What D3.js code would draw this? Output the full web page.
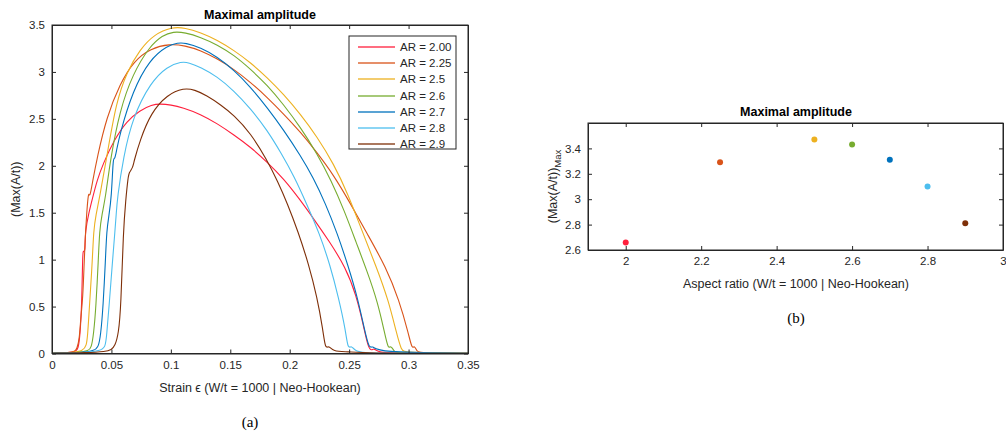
<!DOCTYPE html>
<html>
<head>
<meta charset="utf-8">
<script src="https://cdn.jsdelivr.net/npm/d3@7"></script>
<style>
  body { margin: 0; background: #fff; }
  svg text { font-family: "Liberation Sans", Arial, sans-serif; fill: #262626; }
  .caption { font-family: "Liberation Serif", "DejaVu Serif", serif; font-size: 15px; }
</style>
</head>
<body>
<div id="chart"></div>
<script>

// Aspect ratios and legend labels
var arLabels = ['AR = 2.00', 'AR = 2.25', 'AR = 2.5', 'AR = 2.6', 'AR = 2.7', 'AR = 2.8', 'AR = 2.9'];
var arValues = [2.00, 2.25, 2.5, 2.6, 2.7, 2.8, 2.9];

// Peak of each curve, panel (b)
var maxAmplitude = [2.66, 3.29, 3.47, 3.43, 3.31, 3.10, 2.81];

// Curves: [strain, Max(A/t)]
var curve200 = [[0,0.003],[0.015,0.008],[0.020,0.02],[0.022,0.05],[0.0235,0.18],[0.025,0.5],[0.0258,1.05],[0.0262,1.09],[0.0272,1.09],[0.0278,1.10],[0.028,1.31],[0.031,1.5],[0.034,1.65],[0.038,1.85],[0.043,2.02],[0.052,2.27],[0.063,2.48],[0.074,2.59],[0.084,2.65],[0.091,2.66],[0.100,2.65],[0.110,2.62],[0.125,2.55],[0.139,2.45],[0.153,2.33],[0.167,2.20],[0.181,2.04],[0.195,1.86],[0.208,1.65],[0.221,1.42],[0.233,1.20],[0.247,0.92],[0.256,0.62],[0.262,0.30],[0.266,0.06],[0.269,0.03],[0.271,0.06],[0.274,0.01],[0.29,0.005],[0.35,0.003]];
var curve225 = [[0,0.003],[0.015,0.008],[0.019,0.02],[0.021,0.05],[0.023,0.15],[0.024,0.35],[0.026,0.6],[0.027,0.95],[0.028,1.25],[0.029,1.45],[0.030,1.63],[0.031,1.72],[0.0318,1.66],[0.034,1.82],[0.038,2.09],[0.046,2.52],[0.057,2.87],[0.069,3.12],[0.083,3.25],[0.099,3.30],[0.112,3.28],[0.125,3.23],[0.139,3.14],[0.153,3.03],[0.167,2.89],[0.181,2.73],[0.195,2.55],[0.209,2.36],[0.223,2.14],[0.237,1.90],[0.251,1.60],[0.265,1.28],[0.281,0.92],[0.292,0.57],[0.300,0.21],[0.303,0.04],[0.305,0.09],[0.307,0.02],[0.31,0.005],[0.35,0.003]];
var curve250 = [[0,0.003],[0.018,0.008],[0.026,0.03],[0.029,0.08],[0.030,0.2],[0.031,0.4],[0.032,0.6],[0.034,1.0],[0.035,1.31],[0.037,1.48],[0.040,1.66],[0.046,2.09],[0.054,2.68],[0.063,3.00],[0.074,3.24],[0.086,3.40],[0.101,3.48],[0.112,3.47],[0.125,3.42],[0.139,3.34],[0.153,3.23],[0.167,3.10],[0.181,2.94],[0.195,2.76],[0.209,2.55],[0.223,2.31],[0.237,2.02],[0.249,1.70],[0.261,1.30],[0.273,0.92],[0.283,0.57],[0.290,0.21],[0.294,0.03],[0.297,0.01],[0.35,0.003]];
var curve260 = [[0,0.003],[0.022,0.008],[0.031,0.03],[0.033,0.06],[0.035,0.2],[0.037,0.5],[0.039,1.0],[0.040,1.31],[0.042,1.48],[0.045,1.66],[0.049,2.06],[0.057,2.59],[0.068,2.98],[0.082,3.27],[0.093,3.39],[0.102,3.43],[0.112,3.42],[0.125,3.37],[0.139,3.29],[0.153,3.18],[0.167,3.03],[0.181,2.86],[0.195,2.65],[0.209,2.41],[0.223,2.13],[0.235,1.84],[0.246,1.52],[0.256,1.18],[0.265,0.88],[0.274,0.55],[0.280,0.21],[0.283,0.04],[0.285,0.09],[0.288,0.02],[0.29,0.005],[0.35,0.003]];
var curve270 = [[0,0.003],[0.025,0.008],[0.035,0.03],[0.039,0.06],[0.041,0.2],[0.043,0.5],[0.045,1.0],[0.046,1.31],[0.048,1.48],[0.050,1.66],[0.0515,2.10],[0.0525,2.06],[0.054,2.14],[0.057,2.34],[0.068,2.80],[0.082,3.13],[0.097,3.28],[0.106,3.31],[0.112,3.31],[0.125,3.26],[0.139,3.16],[0.153,3.02],[0.167,2.84],[0.181,2.62],[0.195,2.38],[0.209,2.11],[0.220,1.87],[0.230,1.60],[0.240,1.28],[0.249,0.94],[0.257,0.60],[0.263,0.25],[0.267,0.04],[0.270,0.09],[0.273,0.01],[0.35,0.003]];
var curve280 = [[0,0.003],[0.028,0.008],[0.040,0.03],[0.045,0.06],[0.046,0.2],[0.048,0.5],[0.051,1.0],[0.053,1.31],[0.054,1.48],[0.055,1.66],[0.060,2.09],[0.068,2.52],[0.083,2.89],[0.097,3.06],[0.109,3.11],[0.115,3.10],[0.125,3.05],[0.139,2.95],[0.153,2.80],[0.167,2.61],[0.181,2.38],[0.193,2.13],[0.204,1.88],[0.214,1.60],[0.225,1.28],[0.234,0.94],[0.241,0.60],[0.247,0.25],[0.249,0.04],[0.252,0.09],[0.255,0.02],[0.265,0.01],[0.27,0.003],[0.35,0.003]];
var curve290 = [[0,0.003],[0.030,0.008],[0.045,0.02],[0.050,0.04],[0.053,0.08],[0.056,0.21],[0.058,0.5],[0.060,1.31],[0.062,1.63],[0.064,1.88],[0.065,1.93],[0.068,1.98],[0.069,2.05],[0.074,2.27],[0.083,2.56],[0.097,2.76],[0.111,2.83],[0.120,2.81],[0.130,2.75],[0.142,2.65],[0.153,2.54],[0.167,2.35],[0.181,2.06],[0.190,1.83],[0.198,1.60],[0.207,1.30],[0.216,0.95],[0.223,0.60],[0.228,0.25],[0.230,0.04],[0.233,0.09],[0.236,0.02],[0.25,0.02],[0.26,0.003],[0.35,0.003]];

var curves = [curve200, curve225, curve250, curve260, curve270, curve280, curve290];

// Axis ticks
var strainTicks = [0, 0.05, 0.1, 0.15, 0.2, 0.25, 0.3, 0.35];
var ampTicks = [0, 0.5, 1, 1.5, 2, 2.5, 3, 3.5];
var ratioTicks = [2, 2.2, 2.4, 2.6, 2.8, 3];
var maxTicks = [2.6, 2.8, 3, 3.2, 3.4];

var colors = ['#ff1f3c', '#d95319', '#edb120', '#77ac30', '#0072bd', '#4dbeee', '#7e2f08'];

var width = 1006,
    height = 432,
    axisColor = '#262626',
    tickLen = 4;

var svg = d3.select('#chart')
  .append('svg')
    .attr('width', width)
    .attr('height', height);

// Ticks on all four sides, pointing inward, like a boxed MATLAB axes
function boxAxes(g, x, y, xTicks, yTicks, xFmt, yFmt){
  var x0 = x.range()[0], x1 = x.range()[1],
      y0 = y.range()[0], y1 = y.range()[1];

  g.append('g')
    .attr('transform', 'translate(0,' + y0 + ')')
    .call(d3.axisBottom(x).tickValues(xTicks).tickSizeInner(-tickLen).tickSizeOuter(0).tickPadding(7).tickFormat(xFmt));
  g.append('g')
    .attr('transform', 'translate(0,' + y1 + ')')
    .call(d3.axisTop(x).tickValues(xTicks).tickSizeInner(-tickLen).tickSizeOuter(0).tickFormat(''));
  g.append('g')
    .attr('transform', 'translate(' + x0 + ',0)')
    .call(d3.axisLeft(y).tickValues(yTicks).tickSizeInner(-tickLen).tickSizeOuter(0).tickPadding(7).tickFormat(yFmt));
  g.append('g')
    .attr('transform', 'translate(' + x1 + ',0)')
    .call(d3.axisRight(y).tickValues(yTicks).tickSizeInner(-tickLen).tickSizeOuter(0).tickFormat(''));

  g.selectAll('.domain').attr('stroke', axisColor);
  g.selectAll('.tick line').attr('stroke', axisColor);
  g.selectAll('.tick text')
    .attr('fill', axisColor)
    .style('font-family', '"Liberation Sans", Arial, sans-serif')
    .style('font-size', '11.5px');

  g.append('rect')
    .attr('x', x0)
    .attr('y', y1)
    .attr('width', x1 - x0)
    .attr('height', y0 - y1)
    .attr('fill', 'none')
    .attr('stroke', axisColor)
    .attr('stroke-width', 1);
}

var fmt = function(d){ return String(+d.toFixed(2)); };

// ---------- Panel (a) ----------
var xA = d3.scaleLinear().domain([0, 0.35]).range([52, 468]);
var yA = d3.scaleLinear().domain([0, 3.5]).range([353.5, 25]);

var gA = svg.append('g');

gA.append('defs').append('clipPath')
  .attr('id', 'clipA')
  .append('rect')
    .attr('x', 52).attr('y', 25)
    .attr('width', 416).attr('height', 329);

var line = d3.line()
  .x(function(d){ return xA(d[0]); })
  .y(function(d){ return yA(d[1]); })
  .curve(d3.curveBasis);

gA.append('g')
  .attr('clip-path', 'url(#clipA)')
  .selectAll('.curve')
  .data(curves)
  .enter()
    .append('path')
      .attr('class', 'curve')
      .attr('d', line)
      .attr('fill', 'none')
      .attr('stroke', function(d, i){ return colors[i]; })
      .attr('stroke-width', 1.1);

boxAxes(gA, xA, yA, strainTicks, ampTicks, fmt, fmt);

gA.append('text')
  .attr('x', 260)
  .attr('y', 19)
  .attr('text-anchor', 'middle')
  .style('font-size', '12.5px')
  .style('font-weight', 'bold')
  .style('fill', '#000')
  .text('Maximal amplitude');

gA.append('text')
  .attr('x', 260)
  .attr('y', 392)
  .attr('text-anchor', 'middle')
  .style('font-size', '12.5px')
  .text('Strain \u03f5 (W/t = 1000 | Neo-Hookean)');

gA.append('text')
  .attr('transform', 'translate(20,' + yA(1.75) + ') rotate(-90)')
  .attr('text-anchor', 'middle')
  .style('font-size', '12.5px')
  .text('(Max(A/t))');

gA.append('text')
  .attr('class', 'caption')
  .attr('x', 250)
  .attr('y', 427)
  .attr('text-anchor', 'middle')
  .style('fill', '#000')
  .text('(a)');

// Legend
var legend = gA.append('g');
legend.append('rect')
  .attr('x', 349).attr('y', 36)
  .attr('width', 107).attr('height', 113)
  .attr('fill', '#fff')
  .attr('stroke', axisColor)
  .attr('stroke-width', 1);

arLabels.forEach(function(label, i){
  var rowY = Math.round(47 + i * 16.2);
  legend.append('path')
    .attr('d', 'M358,' + rowY + 'H395')
    .attr('fill', 'none')
    .style('stroke', colors[i])
    .style('stroke-width', '2px')
    .style('opacity', 0.65);
  legend.append('text')
    .attr('x', 400)
    .attr('y', rowY + 4)
    .style('font-size', '11.5px')
    .text(label);
});

// ---------- Panel (b) ----------
var xB = d3.scaleLinear().domain([1.9, 3]).range([588, 1003]);
var yB = d3.scaleLinear().domain([2.6, 3.6]).range([250, 123]);

var gB = svg.append('g');

boxAxes(gB, xB, yB, ratioTicks, maxTicks, fmt, fmt);

gB.selectAll('.dot')
  .data(arValues)
  .enter()
    .append('circle')
      .attr('class', 'dot')
      .attr('cx', function(d){ return xB(d); })
      .attr('cy', function(d, i){ return yB(maxAmplitude[i]); })
      .attr('r', 3)
      .attr('fill', function(d, i){ return colors[i]; });

gB.append('text')
  .attr('x', 796)
  .attr('y', 116)
  .attr('text-anchor', 'middle')
  .style('font-size', '12.5px')
  .style('font-weight', 'bold')
  .style('fill', '#000')
  .text('Maximal amplitude');

gB.append('text')
  .attr('x', 796)
  .attr('y', 288)
  .attr('text-anchor', 'middle')
  .style('font-size', '12.5px')
  .text('Aspect ratio (W/t = 1000 | Neo-Hookean)');

var yLabelB = gB.append('text')
  .attr('transform', 'translate(557,' + yB(3.1) + ') rotate(-90)')
  .attr('text-anchor', 'middle')
  .style('font-size', '12.5px');
yLabelB.append('tspan').text('(Max(A/t))');
yLabelB.append('tspan')
  .attr('dy', 4)
  .style('font-size', '9.5px')
  .text('Max');

gB.append('text')
  .attr('class', 'caption')
  .attr('x', 796)
  .attr('y', 323)
  .attr('text-anchor', 'middle')
  .style('fill', '#000')
  .text('(b)');

</script>
</body>
</html>
